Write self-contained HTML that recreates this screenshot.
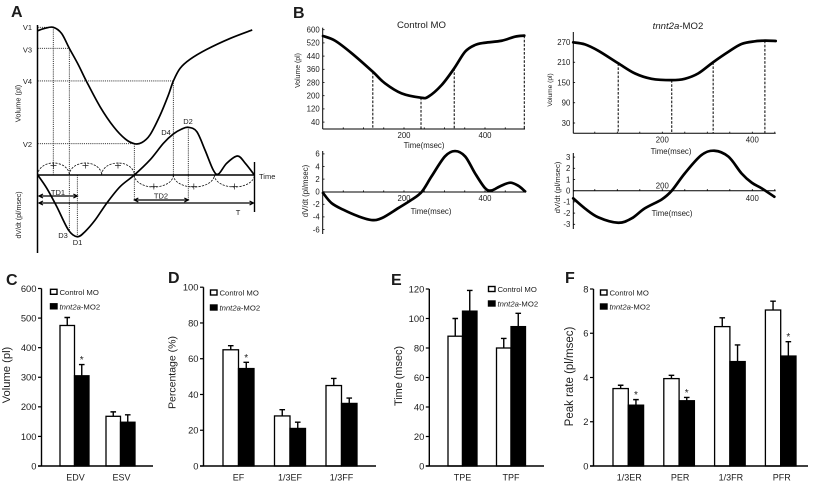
<!DOCTYPE html>
<html>
<head>
<meta charset="utf-8">
<title>Cardiac function figure</title>
<style>
html,body{margin:0;padding:0;background:#fff;}
#figure{display:block;width:814px;height:484px;filter:blur(.38px);font-family:"Liberation Sans",Arial,sans-serif;}
text{fill:#1c1c1c;}
</style>
</head>
<body>
<svg id="figure" xmlns="http://www.w3.org/2000/svg" width="814" height="484" viewBox="0 0 814 484">
  <g font-weight="bold" font-size="16">
    <text x="11" y="17" fill="#000">A</text>
    <text x="293" y="18" fill="#000">B</text>
    <text x="6" y="285" fill="#000">C</text>
    <text x="168" y="283" fill="#000">D</text>
    <text x="391" y="285" fill="#000">E</text>
    <text x="565" y="283" fill="#000">F</text>
  </g>
  <g font-size="7.5">
    <text x="32" y="30" text-anchor="end">V1</text>
    <text x="32" y="52.300" text-anchor="end">V3</text>
    <text x="32" y="84" text-anchor="end">V4</text>
    <text x="32" y="147" text-anchor="end">V2</text>
    <text x="63" y="238" text-anchor="middle">D3</text>
    <text x="77.500" y="245" text-anchor="middle">D1</text>
    <text x="166" y="135" text-anchor="middle">D4</text>
    <text x="188" y="124" text-anchor="middle">D2</text>
    <text x="259" y="179">Time</text>
    <text x="58" y="195" text-anchor="middle">TD1</text>
    <text x="161" y="198.500" text-anchor="middle">TD2</text>
    <text x="238" y="215" text-anchor="middle">T</text>
    <text transform="translate(20.500,103.500) rotate(-90)" text-anchor="middle" font-size="7.400">Volume (pl)</text>
    <text transform="translate(21,215) rotate(-90)" text-anchor="middle" font-size="7">dV/dt (pl/msec)</text>
  </g>
  <g font-size="7.8">
    <text x="421.500" y="28" text-anchor="middle" font-size="9.600">Control MO</text>
    <text x="678" y="29" text-anchor="middle" font-size="9.600"><tspan font-style="italic">tnnt2a</tspan>-MO2</text>
    <text transform="translate(300,70.500) rotate(-90)" text-anchor="middle" font-size="6.900">Volume (pl)</text>
    <text transform="translate(308,191) rotate(-90)" text-anchor="middle">dV/dt (pl/msec)</text>
    <text transform="translate(552,90) rotate(-90)" text-anchor="middle" font-size="6.600">Volume (pl)</text>
    <text transform="translate(560,187.500) rotate(-90)" text-anchor="middle" font-size="7.700">dV/dt (pl/msec)</text>
    <text x="424" y="148" text-anchor="middle">Time(msec)</text>
    <text x="431" y="214" text-anchor="middle">Time(msec)</text>
    <text x="671" y="154" text-anchor="middle">Time(msec)</text>
    <text x="672" y="216" text-anchor="middle">Time(msec)</text>
  </g>
  <g id="panelA"></g>
  <g id="panelB"></g>
  <g id="panelC"></g>
  <g id="panelD"></g>
  <g id="panelE"></g>
  <g id="panelF"></g>
</svg>
<script>
// Panel A schematic data
const aVolumeTimes = [0,3.4,7.2,11,14.6,18.8,22.6,28.8,35,40.4,44.6,48,51.8,56.5,60.3,62.6,65.7,70.3,78,88.8,99];
const aVolumeValues = [97.3,98.9,99.6,95.5,85.4,74.2,62.9,46,32.6,24.3,21.1,21.8,27,40.4,53.9,63.4,71.9,78,84.7,92.1,97.8];
const aRateTimes = [0,4.2,8.8,14.2,18.3,21.8,26.5,31.8,38,44.6,51.8,58,62.6,66.5,69.5,73.4,77.2,81,83.4,87.2,92.2,95.8,100];
const aRateValues = [0,-28,-66.4,-115.4,-129.4,-118.9,-94.4,-59.4,-24.5,0,31.5,66.4,86,96.4,100,90.9,52.4,10.5,2,24.5,39.9,24.5,0];
const aArcBounds = [0,14.6,29.5,44.6,62.6,81.5,100];
const aKeyTimes = {v1:7.2, v3:14.6, v4:62.6, v2:44.6, d1:18.3, d2:69.5};

// Panel B trace data
const bControlVolumeTimes = [0,30,71,123,153,194,242,260,293,324,351,375,400,441,474,497];
const bControlVolume = [562,533,457,345,275,214,188,194,265,366,467,507,521,533,558,564];
const bControlRateTimes = [0,21,50,87,120,145,186,219,244,268,301,326,351,375,400,416,437,462,482,499];
const bControlRate = [-0.2,-1.8,-2.86,-3.9,-4.5,-4.2,-2.6,-1.27,0,2.43,5.6,6.45,5.6,2.96,0.58,0.2,0.85,1.43,0.95,0.05];
const bControlMarkers = [123,242,324,497];
const bMorphantVolumeTimes = [2,28,58,102,139,176,221,250,280,313,347,376,406,428,452];
const bMorphantVolume = [269,263,244,207,177,161,157,161,177,210,241,264,272,274,273];
const bMorphantRateTimes = [2,28,58,102,132,161,199,221,250,287,316,347,376,399,421,449];
const bMorphantRate = [-0.68,-1.58,-2.38,-2.86,-2.47,-1.58,-0.77,0,1.55,3.18,3.57,3.04,1.55,0.71,0.21,-0.54];
const bMorphantMarkers = [102,221,313,428];
const bControlVolumeTicks = [600,520,440,360,280,200,120,40];
const bControlRateTicks = [6,4,2,0,-2,-4,-6];
const bMorphantVolumeTicks = [270,210,150,90,30];
const bMorphantRateTicks = [3,2,1,0,-1,-2,-3];
const bTimeLabels = [200,400];
const bMinorTimes = [50,100,150,200,250,300,350,400,450];

// Bar panels data
const cCategories = ['EDV','ESV'];
const cControl = [475,168];
const cControlErr = [27,15];
const cMorphant = [305,148];
const cMorphantErr = [38,25];
const cStars = [true,false];
const cTicks = [0,100,200,300,400,500,600];

const dCategories = ['EF','1/3EF','1/3FF'];
const dControl = [65,28,45];
const dControlErr = [2.3,3.5,4];
const dMorphant = [54.5,21,35];
const dMorphantErr = [3.5,3.5,3];
const dStars = [true,false,false];
const dTicks = [0,20,40,60,80,100];

const eCategories = ['TPE','TPF'];
const eControl = [88,80];
const eControlErr = [12,6.5];
const eMorphant = [105,94.5];
const eMorphantErr = [14,9];
const eStars = [false,false];
const eTicks = [0,20,40,60,80,100,120];

const fCategories = ['1/3ER','PER','1/3FR','PFR'];
const fControl = [3.5,3.95,6.3,7.05];
const fControlErr = [0.15,0.15,0.4,0.4];
const fMorphant = [2.75,2.95,4.72,4.97];
const fMorphantErr = [0.25,0.15,0.75,0.65];
const fStars = [true,true,false,true];
const fTicks = [0,2,4,6,8];

const NS = 'http://www.w3.org/2000/svg';
function mk(tag, parent, props) {
  const el = document.createElementNS(NS, tag);
  for (const k in props) el.setAttribute(k, props[k]);
  parent.appendChild(el);
  return el;
}
function label(parent, x, y, str, size, anchor) {
  const el = mk('text', parent, {x:x, y:y, 'font-size':size, 'text-anchor':anchor});
  el.textContent = str;
  return el;
}
function smoothPath(pts) {
  let d = 'M' + pts[0][0].toFixed(2) + ' ' + pts[0][1].toFixed(2);
  for (let i = 0; i < pts.length - 1; i++) {
    const p0 = pts[Math.max(i - 1, 0)], p1 = pts[i], p2 = pts[i + 1], p3 = pts[Math.min(i + 2, pts.length - 1)];
    const c1x = p1[0] + (p2[0] - p0[0]) / 6, c1y = p1[1] + (p2[1] - p0[1]) / 6;
    const c2x = p2[0] - (p3[0] - p1[0]) / 6, c2y = p2[1] - (p3[1] - p1[1]) / 6;
    d += 'C' + c1x.toFixed(2) + ' ' + c1y.toFixed(2) + ' ' + c2x.toFixed(2) + ' ' + c2y.toFixed(2) + ' ' + p2[0].toFixed(2) + ' ' + p2[1].toFixed(2);
  }
  return d;
}
function zipPoints(times, values, sx, sy) {
  return times.map(function (t, i) { return [sx(t), sy(values[i])]; });
}
function interp(times, values, t) {
  if (t <= times[0]) return values[0];
  for (let i = 1; i < times.length; i++) {
    if (t <= times[i]) {
      const f = (t - times[i - 1]) / (times[i] - times[i - 1]);
      return values[i - 1] + f * (values[i] - values[i - 1]);
    }
  }
  return values[values.length - 1];
}

/* ---------- Panel A ---------- */
(function () {
  const g = document.getElementById('panelA');
  const ax = function (t) { return 37.7 + t * 2.167; };
  const ay = function (v) { return 175 - v * 1.483; };
  const ar = function (d) { return 175 - d * 0.477; };
  const dotted = {stroke:'#222', 'stroke-width':0.9, 'stroke-dasharray':'1.1 1', fill:'none'};
  function guide(x1, y1, x2, y2) {
    return mk('line', g, Object.assign({x1:x1, y1:y1, x2:x2, y2:y2}, dotted));
  }
  const v1y = ay(interp(aVolumeTimes, aVolumeValues, aKeyTimes.v1));
  const v3y = ay(interp(aVolumeTimes, aVolumeValues, aKeyTimes.v3));
  const v4y = ay(interp(aVolumeTimes, aVolumeValues, aKeyTimes.v4));
  const v2y = ay(interp(aVolumeTimes, aVolumeValues, aKeyTimes.v2));
  const d1y = ar(interp(aRateTimes, aRateValues, aKeyTimes.d1));
  const d2y = ar(interp(aRateTimes, aRateValues, aKeyTimes.d2));
  const d3y = ar(interp(aRateTimes, aRateValues, aKeyTimes.v3));

  let el = guide(ax(0), v1y, ax(aKeyTimes.v1), v1y);
  
  
  el = guide(ax(aKeyTimes.v1), v1y, ax(aKeyTimes.v1), 175);
  
  
  el = guide(ax(0), v3y, ax(aKeyTimes.v3), v3y);
  
  
  el = guide(ax(aKeyTimes.v3), v3y, ax(aKeyTimes.v3), d3y);
  
  
  el = guide(ax(0), v4y, ax(aKeyTimes.v4), v4y);
  
  
  el = guide(ax(aKeyTimes.v4), v4y, ax(aKeyTimes.v4), 175);
  
  
  el = guide(ax(0), v2y, ax(aKeyTimes.v2), v2y);
  
  
  el = guide(ax(aKeyTimes.v2), v2y, ax(aKeyTimes.v2), 200);
  
  
  el = guide(ax(aKeyTimes.d1), 175, ax(aKeyTimes.d1), d1y);
  
  
  el = guide(ax(aKeyTimes.d2), d2y, ax(aKeyTimes.d2), 200);
  
  

  aArcBounds.slice(0, -1).forEach(function (t, i) {
    const x1 = ax(t), x2 = ax(aArcBounds[i + 1]);
    const up = i < 3;
    const arc = mk('path', g, {
      d:'M' + x1 + ' 175A' + (x2 - x1) / 2 + ' 12 0 0 ' + (up ? 1 : 0) + ' ' + x2 + ' 175',
      fill:'none', stroke:'#111', 'stroke-width':0.8, 'stroke-dasharray':'2.2 1.2'
    });
    
    
    const cx = (x1 + x2) / 2, cy = up ? 165.500 : 186.500;
    const plus = mk('path', g, {d:'M' + (cx - 3) + ' ' + cy + 'H' + (cx + 3) + 'M' + cx + ' ' + (cy - 3) + 'V' + (cy + 3), stroke:'#222', 'stroke-width':0.7, fill:'none'});
    
    
  });

  const yAxis = mk('line', g, {x1:37.5, y1:25, x2:37.5, y2:253, stroke:'#000', 'stroke-width':1.5});
  
  
  const base = mk('line', g, {x1:37.5, y1:175, x2:254.500, y2:175, stroke:'#000', 'stroke-width':1.6});
  
  
  const endBar = mk('line', g, {x1:254.500, y1:162, x2:254.500, y2:212, stroke:'#000', 'stroke-width':1.4});
  
  

  const vol = mk('path', g, {d:smoothPath(zipPoints(aVolumeTimes, aVolumeValues, ax, ay)), fill:'none', stroke:'#000', 'stroke-width':1.7});
  
  
  const rate = mk('path', g, {d:smoothPath(zipPoints(aRateTimes, aRateValues, ax, ar)), fill:'none', stroke:'#000', 'stroke-width':1.7});
  
  

  function arrow(x1, x2, y, w) {
    const p = mk('path', g, {
      d:'M' + x1 + ' ' + y + 'H' + x2 + 'M' + (x1 + 4) + ' ' + (y - 2) + 'L' + x1 + ' ' + y + 'L' + (x1 + 4) + ' ' + (y + 2) +
        'M' + (x2 - 4) + ' ' + (y - 2) + 'L' + x2 + ' ' + y + 'L' + (x2 - 4) + ' ' + (y + 2),
      fill:'none', stroke:'#000', 'stroke-width':w
    });
    return p;
  }
  let ar1 = arrow(ax(0.6), ax(aKeyTimes.d1), 196, 1.2);
  
  
  ar1 = arrow(ax(aKeyTimes.v2), ax(aKeyTimes.d2), 200, 1.2);
  
  
  ar1 = arrow(ax(0.6), ax(99.6), 203, 1.2);
  
  
})();

/* ---------- Panel B ---------- */
function drawTrace(cfg) {
  const g = document.getElementById('panelB');
  const sx = function (t) { return cfg.x0 + t * cfg.xScale; };
  const sy = function (v) { return cfg.yRef + (cfg.vRef - v) * cfg.yScale; };

  const yAxis = mk('line', g, {x1:cfg.axisX, y1:cfg.axisTop, x2:cfg.axisX, y2:cfg.axisBottom, stroke:'#000', 'stroke-width':1});
  
  
  const xAxis = mk('line', g, {x1:cfg.axisX, y1:cfg.xAxisY, x2:cfg.axisRight, y2:cfg.xAxisY, stroke:'#000', 'stroke-width':1});
  
  

  cfg.ticks.forEach(function (v) {
    const tick = mk('line', g, {x1:cfg.axisX, y1:sy(v), x2:cfg.axisX + 1.8, y2:sy(v), stroke:'#000', 'stroke-width':0.8});
    
    
    const t = label(g, cfg.axisX - 3, sy(v) + 2.8, String(v), 7.8, 'end');
    
    
  });
  bMinorTimes.forEach(function (tv) {
    const tick = mk('line', g, {x1:sx(tv), y1:cfg.xAxisY, x2:sx(tv), y2:cfg.xAxisY - 1.6, stroke:'#000', 'stroke-width':0.8});
    
    
  });
  bTimeLabels.forEach(function (tv, i) {
    const t = label(g, sx(tv), cfg.labelY[i], String(tv), 7.8, 'middle');
    
    
  });
  (cfg.markers || []).forEach(function (tv) {
    const y = sy(interp(cfg.times, cfg.values, tv));
    const dash = mk('line', g, {x1:sx(tv), y1:y, x2:sx(tv), y2:cfg.xAxisY, stroke:'#000', 'stroke-width':1, 'stroke-dasharray':'2.6 1.5'});
    
    
  });
  const line = mk('path', g, {d:smoothPath(zipPoints(cfg.times, cfg.values, sx, sy)), fill:'none', stroke:'#000', 'stroke-width':2.7, 'stroke-linecap':'round', 'stroke-linejoin':'round'});
  
  
}
drawTrace({name:'control-volume', x0:323, xScale:0.405, yRef:29.7, vRef:600, yScale:0.165, axisX:322.7, axisRight:525, axisTop:27.7, axisBottom:129, xAxisY:129, ticks:bControlVolumeTicks, labelY:[138,138], times:bControlVolumeTimes, values:bControlVolume, markers:bControlMarkers});
drawTrace({name:'control-rate', x0:323, xScale:0.405, yRef:191.7, vRef:0, yScale:6.3, axisX:322.7, axisRight:526, axisTop:151, axisBottom:234, xAxisY:192, ticks:bControlRateTicks, labelY:[201,201], times:bControlRateTimes, values:bControlRate});
drawTrace({name:'morphant-volume', x0:572.3, xScale:0.45, yRef:42, vRef:270, yScale:0.3375, axisX:573.3, axisRight:775.7, axisTop:32, axisBottom:133.3, xAxisY:133.3, ticks:bMorphantVolumeTicks, labelY:[142.500,142.500], times:bMorphantVolumeTimes, values:bMorphantVolume, markers:bMorphantMarkers});
drawTrace({name:'morphant-rate', x0:572.3, xScale:0.45, yRef:190.7, vRef:0, yScale:11.2, axisX:573.3, axisRight:775.7, axisTop:153, axisBottom:229, xAxisY:190.7, ticks:bMorphantRateTicks, labelY:[188.500,201], times:bMorphantRateTimes, values:bMorphantRate});

/* ---------- Bar panels ---------- */
function drawBars(cfg) {
  const g = document.getElementById(cfg.id);
  const top = cfg.ticks[cfg.ticks.length - 1];
  const sy = function (v) { return cfg.y0 - v / top * (cfg.y0 - cfg.yTop); };
  const band = function (i) { return cfg.start + i * cfg.step; };

  function series(values, errs, offset, fill, seriesName) {
    values.forEach(function (v, i) {
      const x = band(i) + offset;
      const cx = x + cfg.barW / 2;
      const err = mk('path', g, {
        d:'M' + cx + ' ' + sy(v) + 'V' + sy(v + errs[i]) + 'M' + (cx - 2.8) + ' ' + sy(v + errs[i]) + 'H' + (cx + 2.8),
        fill:'none', stroke:'#000', 'stroke-width':1.4
      });
      
      
      const bar = mk('rect', g, {x:x, y:sy(v), width:cfg.barW, height:cfg.y0 - sy(v), fill:fill, stroke:'#000', 'stroke-width':1.3});
      
      
    });
  }
  series(cfg.control, cfg.controlErr, 0, '#fff', 'control-mo');
  series(cfg.morphant, cfg.morphantErr, cfg.barW, '#000', 'tnnt2a-mo2');

  cfg.stars.forEach(function (on, i) {
    if (!on) return;
    const x = band(i) + cfg.barW * 1.5;
    const s = label(g, x, sy(cfg.morphant[i] + cfg.morphantErr[i]) - 1.5, '*', 10, 'middle');
    
    
  });

  const yAxis = mk('line', g, {x1:cfg.axisX, y1:cfg.yTop, x2:cfg.axisX, y2:cfg.y0, stroke:'#000', 'stroke-width':1.4});
  
  
  const xAxis = mk('line', g, {x1:cfg.axisX - 3.5, y1:cfg.y0, x2:cfg.axisRight, y2:cfg.y0, stroke:'#000', 'stroke-width':1.4});
  
  

  cfg.ticks.forEach(function (v) {
    const tick = mk('line', g, {x1:cfg.axisX - 3.5, y1:sy(v), x2:cfg.axisX, y2:sy(v), stroke:'#000', 'stroke-width':1.2});
    
    
    const t = label(g, cfg.axisX - 5, sy(v) + 3.4, String(v), 9.4, 'end');
    
    
  });
  cfg.categories.forEach(function (c, i) {
    const t = label(g, band(i) + cfg.barW + cfg.catShift, 480.500, c, 9, 'middle');
    
    
  });

  const title = mk('text', g, {'font-size':cfg.titleSize, 'text-anchor':'middle', transform:'translate(' + cfg.titleX + ',' + cfg.titleY + ') rotate(-90)'});
  title.textContent = cfg.title;
  
  

  const sq1 = mk('rect', g, {x:cfg.legendX, y:cfg.legendY1, width:6.5, height:5, fill:'#fff', stroke:'#000', 'stroke-width':1.4});
  
  
  const lg1 = label(g, cfg.legendX + 9, cfg.legendY1 + 5.7, 'Control MO', 7.7, 'start');
  
  
  const sq2 = mk('rect', g, {x:cfg.legendX, y:cfg.legendY2, width:6.5, height:5, fill:'#000', stroke:'#000', 'stroke-width':1.4});
  
  
  const lg2 = mk('text', g, {x:cfg.legendX + 9, y:cfg.legendY2 + 5.7, 'font-size':7.7});
  
  
  const ital = mk('tspan', lg2, {'font-style':'italic'});
  ital.textContent = 'tnnt2a';
  const rest = mk('tspan', lg2, {});
  rest.textContent = '-MO2';
}
drawBars({id:'panelC', y0:466, yTop:288.5, axisX:41.500, axisRight:153, start:60, step:46, barW:14.5, catShift:1, ticks:cTicks, categories:cCategories, control:cControl, controlErr:cControlErr, morphant:cMorphant, morphantErr:cMorphantErr, stars:cStars, title:'Volume (pl)', titleSize:11.2, titleX:10, titleY:375, legendX:50.500, legendY1:289.300, legendY2:303.800});
drawBars({id:'panelD', y0:466, yTop:287.2, axisX:203.500, axisRight:376, start:223, step:51.5, barW:15.5, catShift:0, ticks:dTicks, categories:dCategories, control:dControl, controlErr:dControlErr, morphant:dMorphant, morphantErr:dMorphantErr, stars:dStars, title:'Percentage  (%)', titleSize:10.5, titleX:175.500, titleY:372.500, legendX:210.500, legendY1:290, legendY2:305});
drawBars({id:'panelE', y0:466, yTop:289, axisX:429.300, axisRight:544, start:448, step:48.5, barW:14.5, catShift:0, ticks:eTicks, categories:eCategories, control:eControl, controlErr:eControlErr, morphant:eMorphant, morphantErr:eMorphantErr, stars:eStars, title:'Time (msec)', titleSize:10.9, titleX:402, titleY:376, legendX:488.500, legendY1:286.500, legendY2:301});
drawBars({id:'panelF', y0:466, yTop:289, axisX:593.500, axisRight:808, start:613, step:50.8, barW:15.3, catShift:1, ticks:fTicks, categories:fCategories, control:fControl, controlErr:fControlErr, morphant:fMorphant, morphantErr:fMorphantErr, stars:fStars, title:'Peak rate (pl/msec)', titleSize:11.5, titleX:573, titleY:376.500, legendX:600.500, legendY1:290, legendY2:304});
</script>
</body>
</html>
